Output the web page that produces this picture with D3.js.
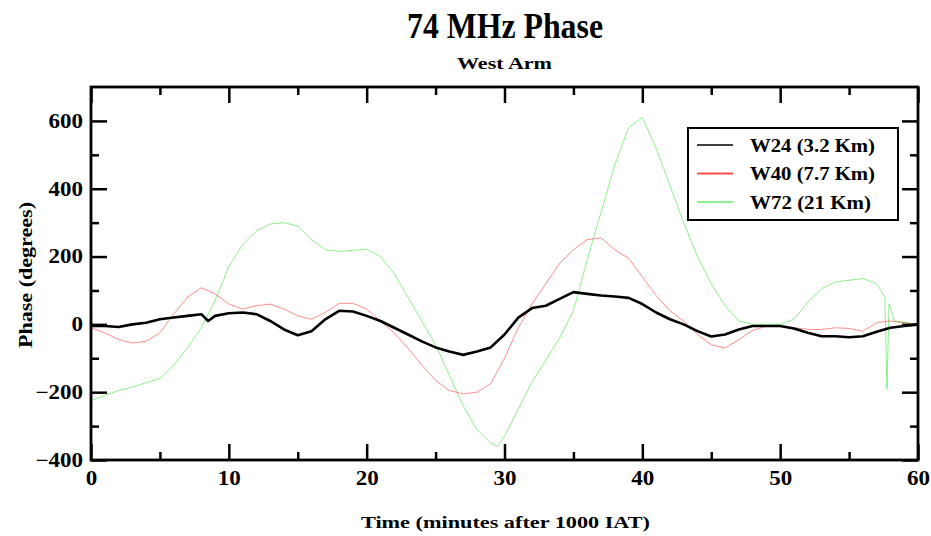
<!DOCTYPE html>
<html><head><meta charset="utf-8">
<script src="https://cdn.jsdelivr.net/npm/d3@7"></script>
<style>
html,body{margin:0;padding:0;background:#fff;}
svg text{font-family:"Liberation Serif","Times New Roman",serif;font-weight:bold;fill:#000;}
</style></head>
<body>
<svg id="chart" width="931" height="536"></svg>
<script>
const title = "74 MHz Phase";
const subtitle = "West Arm";
const xLabel = "Time (minutes after 1000 IAT)";
const yLabel = "Phase (degrees)";
const seriesNames = ["W24 (3.2 Km)", "W40 (7.7 Km)", "W72 (21 Km)"];
const seriesColors = ["#000000", "#ff0000", "#00dd00"];
const xTicks = [0,10,20,30,40,50,60];
const yTicks = [-400,-200,0,200,400,600];

const w24T = [0,1,2,3,4,5,6,7,8,8.5,9,10,11,12,13,14,15,16,17,18,19,20,21,22,23,24,25,26,27,28,29,30,31,32,33,34,35,36,37,38,39,40,41,42,43,44,45,46,47,48,49,50,51,52,53,54,55,56,57,58,59,60];
const w24V = [-5,-5,-8,0,5,15,20,25,30,10,25,33,35,30,10,-15,-32,-20,15,40,38,25,10,-10,-30,-50,-68,-80,-90,-80,-68,-30,20,48,55,75,95,90,85,82,78,60,35,15,0,-20,-36,-30,-15,-5,-5,-5,-12,-25,-35,-35,-38,-35,-22,-10,-5,0];

const w40T = [0,1,2,3,4,5,6,7,8,9,10,11,12,13,14,15,16,17,18,19,20,21,22,23,24,25,26,27,28,29,30,31,32,33,34,35,36,37,38,39,40,41,42,43,44,45,46,47,48,49,50,51,52,53,54,55,56,57,58,59,60];
const w40V = [-10,-25,-45,-55,-50,-25,30,80,108,90,60,45,55,60,45,25,15,35,62,62,45,10,-25,-70,-120,-165,-195,-205,-200,-175,-100,-10,60,120,180,220,250,255,220,195,140,85,40,10,-30,-60,-70,-45,-18,-5,-5,-10,-15,-15,-10,-12,-20,5,10,5,0];

const w72T = [0,1,2,3,4,5,6,7,8,9,10,11,12,13,14,15,16,17,18,19,20,21,22,23,24,25,26,27,28,29,29.5,30,31,32,33,34,35,36,37,38,39,40,41,42,43,44,45,46,47,48,49,50,51,52,53,54,55,56,57,57.6,57.75,57.9,58.3,60];
const w72V = [-225,-210,-195,-185,-172,-160,-120,-70,-10,70,170,235,275,296,300,290,250,220,215,218,222,200,150,80,10,-60,-150,-240,-310,-350,-360,-330,-250,-170,-105,-40,40,190,330,470,580,610,520,410,300,200,120,55,10,0,0,0,15,65,105,125,130,135,120,80,-190,60,10,0];

const margin = {left:91, right:13, top:87, bottom:76};
const W = 931, H = 536;
const svg = d3.select("#chart");
const x = d3.scaleLinear().domain([0,60]).range([margin.left, W-margin.right]);
const y = d3.scaleLinear().domain([-400,700]).range([H-margin.bottom, margin.top]);

const series = [
  {name:seriesNames[0], color:seriesColors[0], t:w24T, v:w24V, width:2.6, op:1, len:125},
  {name:seriesNames[1], color:seriesColors[1], t:w40T, v:w40V, width:1, op:0.45, len:125},
  {name:seriesNames[2], color:seriesColors[2], t:w72T, v:w72V, width:1, op:0.45, len:121}
];

const line = d3.line().x(d=>x(d[0])).y(d=>y(d[1]));
[series[2], series[1], series[0]].forEach(s=>{
  svg.append("path")
    .datum(s.t.map((t,i)=>[t,s.v[i]]))
    .attr("d", line)
    .attr("fill","none")
    .attr("stroke", s.color)
    .attr("stroke-opacity", s.op)
    .attr("stroke-width", s.width)
    .attr("stroke-linejoin","round");
});

// axes with inward ticks on all four sides
const xMinor = d3.range(5,60,10);
const yMinor = d3.range(-300,700,200);
const axB = d3.axisBottom(x).tickValues(xTicks).tickSize(-16).tickPadding(11).tickFormat(d3.format("d"));
const axT = d3.axisTop(x).tickValues(xTicks).tickSize(-16).tickFormat("");
const axL = d3.axisLeft(y).tickValues(yTicks).tickSize(-16).tickPadding(8).tickFormat(d3.format("d"));
const axR = d3.axisRight(y).tickValues(yTicks).tickSize(-16).tickFormat("");
const gB = svg.append("g").attr("transform",`translate(0,${y(-400)})`).call(axB);
svg.append("g").attr("transform",`translate(0,${margin.top})`).call(axT);
const gL = svg.append("g").attr("transform",`translate(${margin.left},0)`).call(axL);
svg.append("g").attr("transform",`translate(${W-margin.right},0)`).call(axR);
svg.append("g").attr("transform",`translate(0,${y(-400)})`).call(d3.axisBottom(x).tickValues(xMinor).tickSize(-8).tickFormat(""));
svg.append("g").attr("transform",`translate(0,${margin.top})`).call(d3.axisTop(x).tickValues(xMinor).tickSize(-8).tickFormat(""));
svg.append("g").attr("transform",`translate(${margin.left},0)`).call(d3.axisLeft(y).tickValues(yMinor).tickSize(-8).tickFormat(""));
svg.append("g").attr("transform",`translate(${W-margin.right},0)`).call(d3.axisRight(y).tickValues(yMinor).tickSize(-8).tickFormat(""));
svg.selectAll(".domain").remove();
svg.selectAll(".tick line").attr("stroke","#000").attr("stroke-width",2.5);
svg.selectAll(".tick text").style("font-size","20px").style("font-family","Liberation Serif").style("font-weight","bold").attr("fill","#000");
// widen tick labels slightly like the reference
svg.selectAll(".tick text").each(function(){
  const n = this.getComputedTextLength();
  d3.select(this).attr("textLength", n*1.15).attr("lengthAdjust","spacingAndGlyphs");
});

// frame
svg.append("rect")
  .attr("x", margin.left).attr("y", margin.top)
  .attr("width", x(60)-x(0)).attr("height", y(-400)-margin.top)
  .attr("fill","none").attr("stroke","#000").attr("stroke-width",2.8);

// titles
function txt(xp, yp, size, len, s){
  return svg.append("text").attr("x",xp).attr("y",yp).attr("text-anchor","middle")
    .style("font-size",size+"px").attr("textLength",len).attr("lengthAdjust","spacingAndGlyphs").text(s);
}
txt(505, 38, 35, 196, title);
txt(504.5, 69, 17, 95, subtitle);
txt(505.5, 528, 17, 289, xLabel);
svg.append("text").attr("transform",`translate(32,275) rotate(-90)`).attr("text-anchor","middle")
  .style("font-size","18px").attr("textLength",146).attr("lengthAdjust","spacingAndGlyphs").text(yLabel);

// legend
const lg = svg.append("g");
lg.append("rect").attr("x",688).attr("y",128).attr("width",210).attr("height",92)
  .attr("fill","#fff").attr("stroke","#000").attr("stroke-width",2);
series.forEach((s,i)=>{
  const yy = 145 + i*28.5;
  lg.append("line").attr("x1",697).attr("x2",733).attr("y1",yy).attr("y2",yy)
    .attr("stroke", s.color).attr("stroke-width", i===0?1.5:2).attr("stroke-opacity", i===0?1:(i===1?0.7:0.45));
  lg.append("text").attr("x",750).attr("y",yy+6.5).style("font-size","19px")
    .attr("textLength",s.len).attr("lengthAdjust","spacingAndGlyphs").text(s.name);
});
</script>
</body></html>
